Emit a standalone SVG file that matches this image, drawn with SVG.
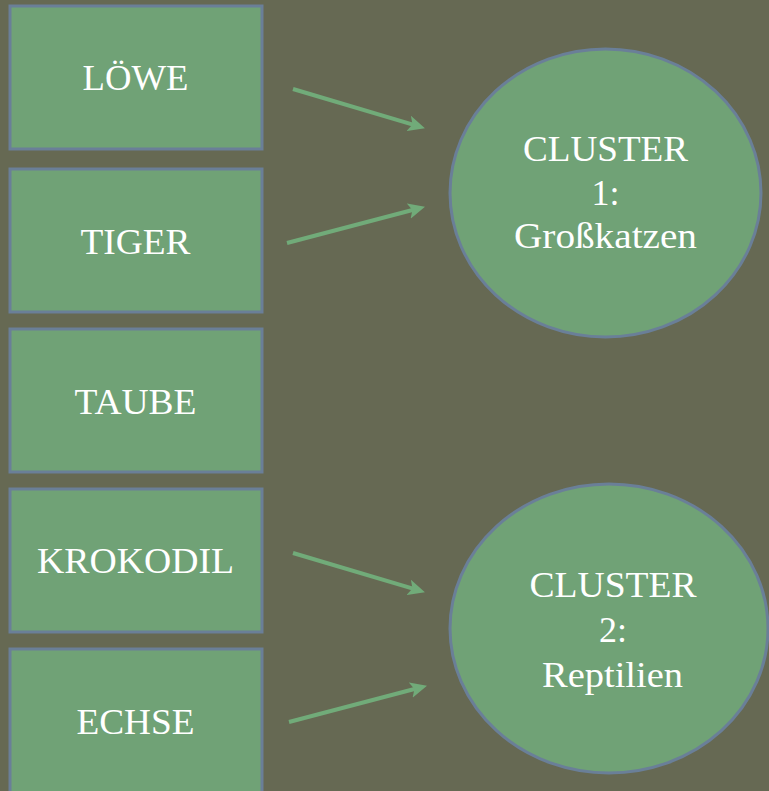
<svg xmlns="http://www.w3.org/2000/svg" width="769" height="791" viewBox="0 0 769 791">
<style>
.bg{fill:#666953}
.box{fill:#70a276;stroke:#6a7f98;stroke-width:3}
.clu{fill:#70a276;stroke:#6a7f98;stroke-width:3}
.t{fill:#ffffff;font-family:"Liberation Serif","Times New Roman",serif;font-size:36px;text-anchor:middle}
.arr{stroke:#71ab79;stroke-width:4;fill:none;marker-end:url(#ah)}
</style>
<defs>
<marker id="ah" markerUnits="userSpaceOnUse" markerWidth="18" markerHeight="16" viewBox="0 0 18 16" refX="8" refY="8" orient="auto">
<path d="M0,0 L17,8 L0,16 L4,8 Z" fill="#71ab79"/>
</marker>
</defs>
<rect class="bg" x="0" y="0" width="769" height="791"/>
<g id="connectors">
<line class="arr" x1="293" y1="89" x2="416.3" y2="125.7"/>
<line class="arr" x1="287" y1="243" x2="416.3" y2="209"/>
<line class="arr" x1="293" y1="553" x2="416.3" y2="589.7"/>
<line class="arr" x1="289" y1="722" x2="418.3" y2="688"/>
</g>
<g id="loewe">
<rect class="box" x="10" y="6" width="252" height="143"/>
<text class="t" x="135.5" y="90" textLength="106" lengthAdjust="spacingAndGlyphs">LÖWE</text>
</g>
<g id="tiger">
<rect class="box" x="10" y="169" width="252" height="143"/>
<text class="t" x="135.5" y="254" textLength="110" lengthAdjust="spacingAndGlyphs">TIGER</text>
</g>
<g id="taube">
<rect class="box" x="10" y="329" width="252" height="143"/>
<text class="t" x="135.5" y="414" textLength="122" lengthAdjust="spacingAndGlyphs">TAUBE</text>
</g>
<g id="krokodil">
<rect class="box" x="10" y="489" width="252" height="143"/>
<text class="t" x="135.5" y="573" textLength="197" lengthAdjust="spacingAndGlyphs">KROKODIL</text>
</g>
<g id="echse">
<rect class="box" x="10" y="649" width="252" height="144"/>
<text class="t" x="135.5" y="734" textLength="118" lengthAdjust="spacingAndGlyphs">ECHSE</text>
</g>
<g id="cluster1">
<ellipse class="clu" cx="605.5" cy="193" rx="155.5" ry="144"/>
<text class="t" x="605.5" y="161" textLength="165" lengthAdjust="spacingAndGlyphs">CLUSTER</text>
<text class="t" x="605.5" y="205">1:</text>
<text class="t" x="605.5" y="248" textLength="183" lengthAdjust="spacingAndGlyphs">Großkatzen</text>
</g>
<g id="cluster2">
<ellipse class="clu" cx="609" cy="628.5" rx="159" ry="144.5"/>
<text class="t" x="613" y="597" textLength="167" lengthAdjust="spacingAndGlyphs">CLUSTER</text>
<text class="t" x="613" y="642">2:</text>
<text class="t" x="612.5" y="687" textLength="141" lengthAdjust="spacingAndGlyphs">Reptilien</text>
</g>
</svg>
